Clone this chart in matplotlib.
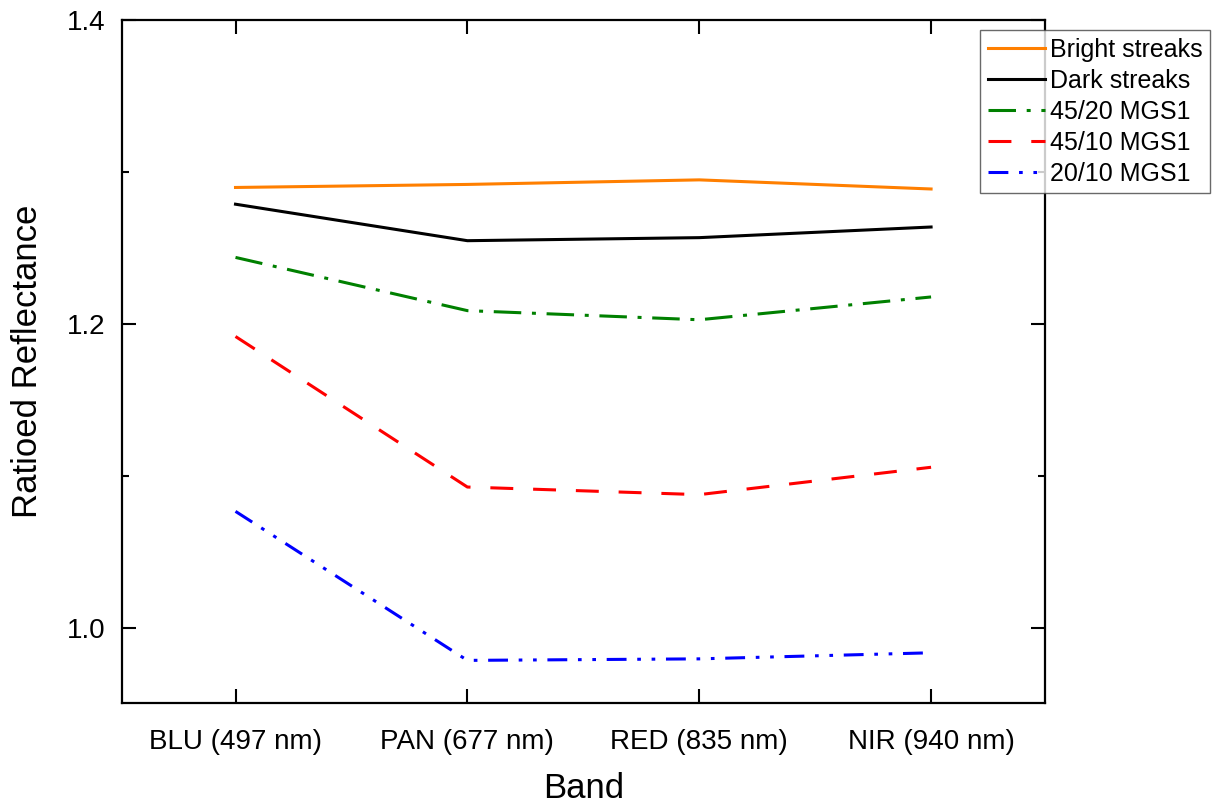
import matplotlib; matplotlib.use("Agg")
import matplotlib.pyplot as plt
from matplotlib.ticker import MultipleLocator

plt.rcParams["font.family"] = ["Liberation Sans", "DejaVu Sans"]

bands = ["BLU (497 nm)", "PAN (677 nm)", "RED (835 nm)", "NIR (940 nm)"]
bright = [1.290, 1.292, 1.295, 1.289]
dark = [1.279, 1.255, 1.257, 1.264]
mgs_45_20 = [1.244, 1.209, 1.203, 1.218]
mgs_45_10 = [1.192, 1.093, 1.088, 1.106]
mgs_20_10 = [1.077, 0.979, 0.980, 0.984]

x = list(range(len(bands)))
fig = plt.figure(figsize=(12.19, 8.08), dpi=100)
ax = fig.add_axes([0.100, 0.130, 0.757, 0.845])

lw = 2.2
ax.plot(x, bright, color="#ff7f00", lw=lw, label="Bright streaks")
ax.plot(x, dark, color="black", lw=lw, label="Dark streaks")
ax.plot(x, mgs_45_20, color="#008000", lw=lw, dashes=(9, 3.5, 1.3, 3.5), label="45/20 MGS1")
ax.plot(x, mgs_45_10, color="red", lw=lw, dashes=(7.5, 6.5), label="45/10 MGS1")
ax.plot(x, mgs_20_10, color="blue", lw=lw, dashes=(6.5, 3.5, 1.2, 3.5, 1.2, 3.5), label="20/10 MGS1")

ax.set_xlim(-0.49, 3.49)
ax.set_ylim(0.951, 1.4)
ax.set_xticks(x)
ax.set_xticklabels(bands)
ax.yaxis.set_major_locator(MultipleLocator(0.2))
ax.yaxis.set_minor_locator(MultipleLocator(0.1))
ax.yaxis.set_major_formatter(plt.FormatStrFormatter("%.1f"))
ax.tick_params(which="both", direction="in", top=True, right=True, width=1.5, labelsize=20)
ax.tick_params(which="major", length=10, pad=12)
ax.tick_params(axis="x", which="major", pad=19)
ax.tick_params(which="minor", length=5)
for s in ax.spines.values():
    s.set_linewidth(1.6)

ax.set_xlabel("Band", fontsize=25, labelpad=12)
ax.set_ylabel("Ratioed Reflectance", fontsize=25, labelpad=16)

leg = ax.legend(loc="upper left", bbox_to_anchor=(0.930, 0.985), fontsize=18,
                frameon=True, fancybox=False, edgecolor="#444444", handlelength=2.3,
                handletextpad=0.2, borderpad=0.3, labelspacing=0.28, borderaxespad=0)
leg.get_frame().set_linewidth(1.0)

fig.savefig("out.png", dpi=100)
